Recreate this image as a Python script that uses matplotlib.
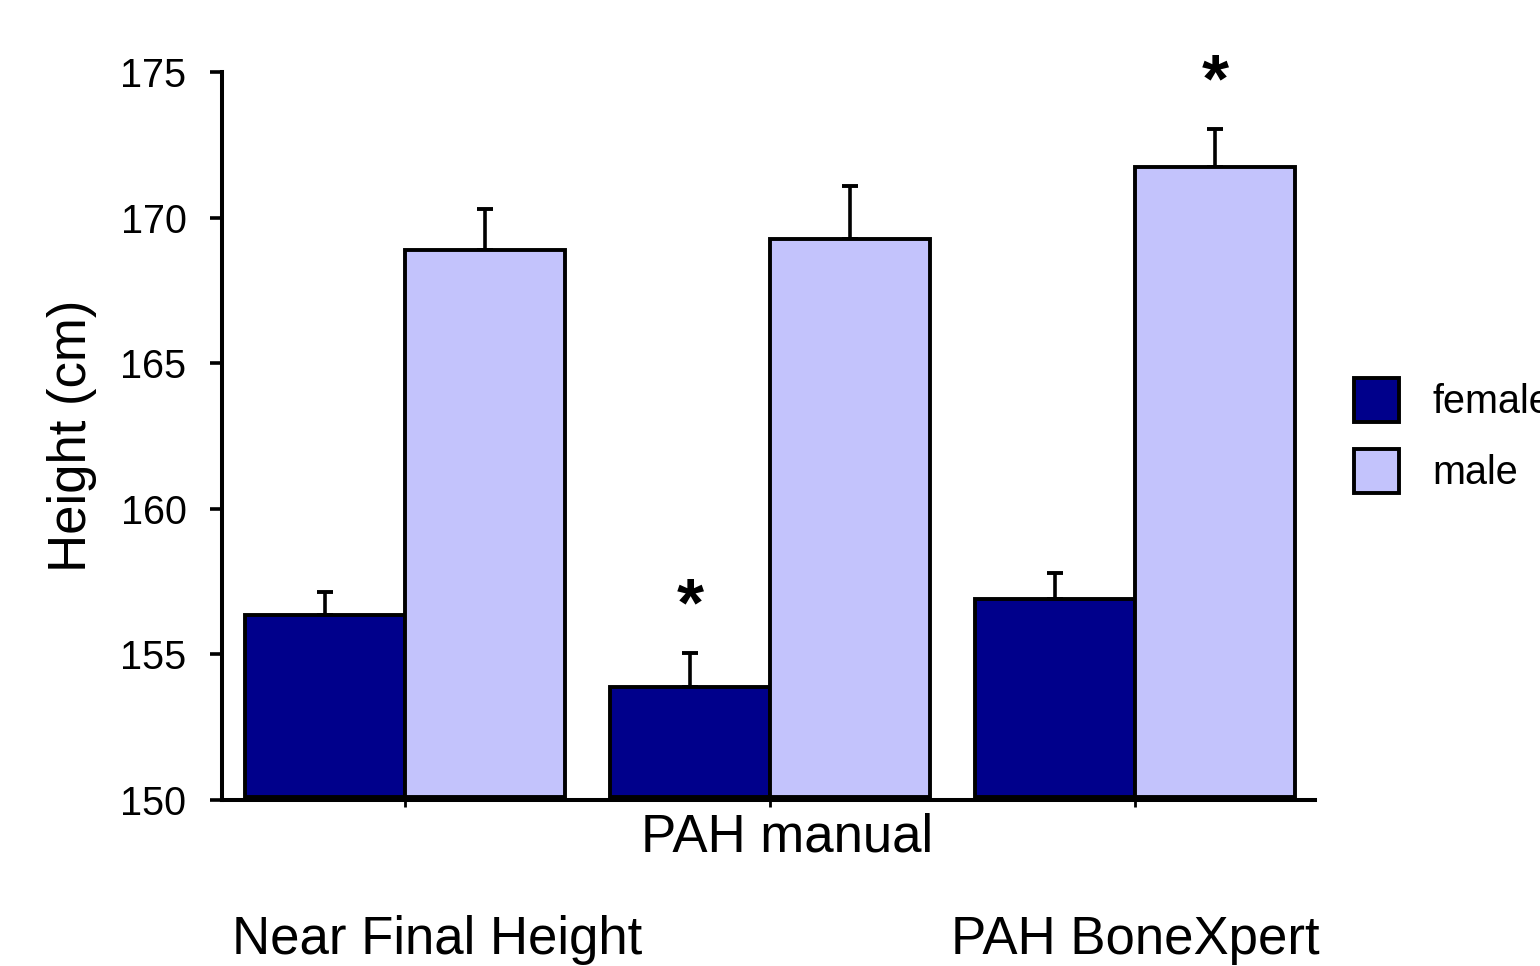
import numpy as np
import matplotlib
matplotlib.use("Agg")
import matplotlib.pyplot as plt
import matplotlib.transforms as mtransforms

plt.rcParams['font.family'] = ['Liberation Sans', 'DejaVu Sans']

categories = ["Near Final Height", "PAH manual", "PAH BoneXpert"]
female_mean = [156.35, 153.88, 156.91]
female_err = [0.79, 1.16, 0.87]
male_mean = [168.88, 169.27, 171.74]
male_err = [1.43, 1.82, 1.29]
# significance markers: (series, category index)
stars = [("female", 1), ("male", 2)]

female_col = "#00008b"
male_col = "#c3c3fc"

fig = plt.figure(figsize=(15.4, 9.66), dpi=100)
ax = fig.add_axes([222/1540, 166/966, (1315-222)/1540, (800-72)/966])

x = np.arange(len(categories))
w = 0.438
base = 150.1

fb = ax.bar(x - w/2, np.array(female_mean) - base, w, bottom=base, color=female_col,
            edgecolor="black", linewidth=2.8, label="female", zorder=2)
mb = ax.bar(x + w/2, np.array(male_mean) - base, w, bottom=base, color=male_col,
            edgecolor="black", linewidth=2.8, label="male", zorder=2)

ax.errorbar(x - w/2, female_mean, yerr=[np.zeros(3), female_err], fmt="none",
            ecolor="black", elinewidth=2.6, capsize=5.8, capthick=2.8, zorder=1)
ax.errorbar(x + w/2, male_mean, yerr=[np.zeros(3), male_err], fmt="none",
            ecolor="black", elinewidth=2.6, capsize=5.8, capthick=2.8, zorder=1)

for series, i in stars:
    if series == "female":
        xs, top = x[i] - w/2, female_mean[i] + female_err[i]
    else:
        xs, top = x[i] + w/2, male_mean[i] + male_err[i]
    ax.annotate("*", (xs, top), xytext=(0, 10), textcoords="offset points",
                ha="center", va="bottom", fontsize=50, fontweight="bold")

ax.set_xlim(-0.5014, 2.493)
ax.set_ylim(150, 175)
ax.set_yticks(np.arange(150, 176, 5))
ax.tick_params(axis="y", labelsize=28.5, length=8.6, width=2.6, pad=17)
ax.set_xticks(x)
ax.set_xticklabels([])
ax.tick_params(axis="x", length=5, width=2, direction="out")

for s in ["top", "right"]:
    ax.spines[s].set_visible(False)
ax.spines["left"].set_linewidth(2.9)
ax.spines["bottom"].set_linewidth(2.9)

ax.set_ylabel("Height (cm)", fontsize=38, labelpad=17)

# staggered category labels
trans = mtransforms.blended_transform_factory(ax.transData, ax.transAxes)
label_dx = [0.088, 0.047, 0.0]
label_y = [-0.192, -0.052, -0.192]
for i, name in enumerate(categories):
    ax.text(x[i] + label_dx[i], label_y[i], name, transform=trans,
            ha="center", va="center", fontsize=38)

fig.legend(handles=[fb, mb], labels=["female", "male"], loc="upper left",
           bbox_to_anchor=(1354/1540, 1 - 378/966), frameon=False, fontsize=28.5,
           handlelength=1.13, handleheight=1.33, handletextpad=0.85,
           labelspacing=0.68, borderpad=0, borderaxespad=0)

fig.savefig("out.png", dpi=100)
